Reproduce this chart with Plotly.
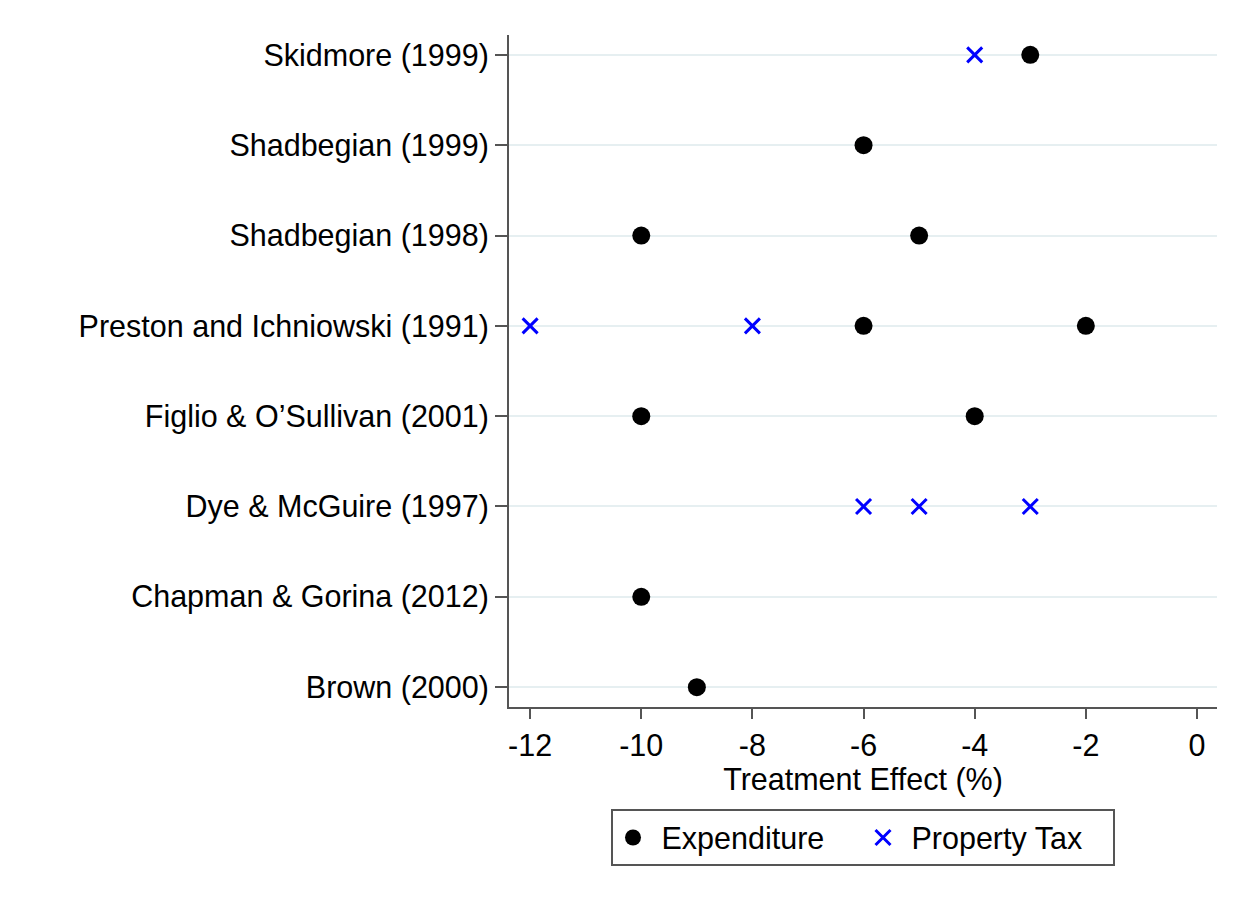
import plotly.graph_objects as go

studies = ["Brown (2000)", "Chapman & Gorina (2012)", "Dye & McGuire (1997)",
           "Figlio & O\u2019Sullivan (2001)", "Preston and Ichniowski (1991)",
           "Shadbegian (1998)", "Shadbegian (1999)", "Skidmore (1999)"]

exp_study = ["Skidmore (1999)", "Shadbegian (1999)", "Shadbegian (1998)", "Shadbegian (1998)",
             "Preston and Ichniowski (1991)", "Preston and Ichniowski (1991)",
             "Figlio & O\u2019Sullivan (2001)", "Figlio & O\u2019Sullivan (2001)",
             "Chapman & Gorina (2012)", "Brown (2000)"]
exp_val = [-3, -6, -10, -5, -6, -2, -10, -4, -10, -9]

tax_study = ["Skidmore (1999)", "Preston and Ichniowski (1991)", "Preston and Ichniowski (1991)",
             "Dye & McGuire (1997)", "Dye & McGuire (1997)", "Dye & McGuire (1997)"]
tax_val = [-4, -12, -8, -6, -5, -3]

x_ticks = [-12, -10, -8, -6, -4, -2, 0]

FONT = "Liberation Sans, Arial, sans-serif"
FS = 30.5

fig = go.Figure()
fig.add_trace(go.Scatter(x=exp_val, y=exp_study, mode="markers", name=" Expenditure",
                         marker=dict(symbol="circle", size=18, color="black")))
fig.add_trace(go.Scatter(x=tax_val, y=tax_study, mode="markers", name=" Property Tax",
                         marker=dict(symbol="x-thin", size=15, color="#0000ff",
                                     line=dict(color="#0000ff", width=3))))

fig.update_layout(
    width=1247, height=909,
    margin=dict(l=501, r=38, t=27, b=210),
    paper_bgcolor="white", plot_bgcolor="white",
    font=dict(family=FONT, size=FS, color="black"),
    showlegend=True,
    legend=dict(orientation="h", x=0.5, xanchor="center", y=-0.152, yanchor="top",
                bordercolor="#555555", borderwidth=2, font=dict(size=FS),
                entrywidth=205, entrywidthmode="pixels",
                itemsizing="trace"),
)
fig.update_xaxes(range=[-12.38, 0.36], tickvals=x_ticks, ticktext=[str(v) for v in x_ticks],
                 showgrid=False, zeroline=False, showline=True, linecolor="#555555", linewidth=2,
                 ticks="outside", ticklen=10, tickwidth=2, tickcolor="#555555",
                 title=dict(text="Treatment Effect (%)", standoff=4, font=dict(size=FS)),
                 tickfont=dict(size=FS))
fig.update_yaxes(type="category", categoryorder="array", categoryarray=studies,
                 range=[-0.22, 7.22], showgrid=True, gridcolor="#e6eff1", gridwidth=2,
                 zeroline=False, showline=True, linecolor="#555555", linewidth=2,
                 ticks="outside", ticklen=12, tickwidth=2, tickcolor="#555555",
                 tickfont=dict(size=FS))

fig.write_html("out.html")
